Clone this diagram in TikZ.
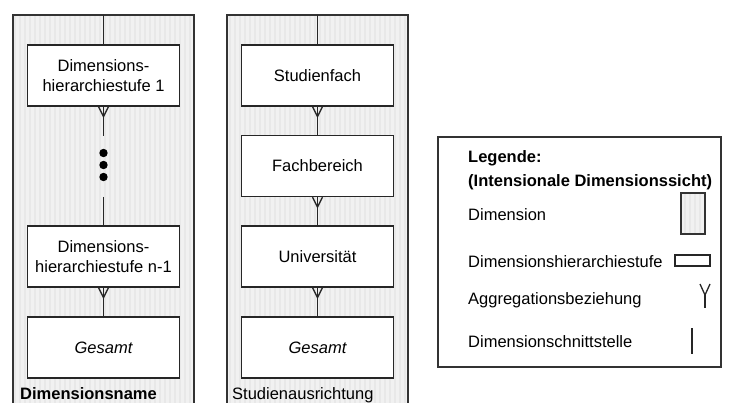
\documentclass[tikz,border=0pt]{standalone}
\usepackage{fontspec}
\setmainfont{Liberation Sans}
\definecolor{dimgray}{RGB}{241,241,241}
\definecolor{stripegray}{RGB}{232,232,232}
\begin{document}
\begin{tikzpicture}[x=1pt,y=-1pt,
  every node/.style={font=\fontsize{16.5}{20.5}\selectfont},
  level/.style={draw=black!85,line width=1.3pt,fill=white,minimum width=152pt,
    minimum height=61pt,inner sep=0pt,align=center},
  dimfill/.style={fill=dimgray},
  frameline/.style={draw=black!80,line width=1.3pt},
  link/.style={draw=black!85,line width=1.3pt},
  stripe/.style={draw=stripegray,line width=1.2pt},
  legtext/.style={anchor=base west,inner sep=0pt}]
\useasboundingbox (0,0) rectangle (730,403);
\fill[white] (0,0) rectangle (730,403);

% striped dimension shading
\newcommand\dimstripes[4]{%
  \begin{scope}
    \clip (#1,#2) rectangle (#3,#4);
    \fill[dimfill] (#1,#2) rectangle (#3,#4);
    \foreach \sx in {#1,...,#3} {\pgfmathparse{mod(\sx,5)==0}%
      \ifnum\pgfmathresult=1 \draw[stripe] (\sx,#2) -- (\sx,#4);\fi}
  \end{scope}}
\dimstripes{13}{15}{194}{404}
\dimstripes{227}{15}{408}{404}
\draw[frameline] (13,404) -- (13,15) -- (194,15) -- (194,404);
\draw[frameline] (227,404) -- (227,15) -- (408,15) -- (408,404);

% left dimension
\node[level] (a1) at (103.5,75.5) {Dimensions-\\hierarchiestufe 1};
\node[level] (a2) at (103.5,256.5) {Dimensions-\\hierarchiestufe n-1};
\node[level] (a3) at (103.5,347.5) {\itshape Gesamt};
\node[legtext,font=\fontsize{16.5}{20.5}\selectfont\bfseries] (dname) at (20,399) {Dimensionsname};

% middle dimension
\node[level] (b1) at (317.5,75.5) {Studienfach};
\node[level] (b2) at (317.5,166) {Fachbereich};
\node[level] (b3) at (317.5,256.5) {Universität};
\node[level] (b4) at (317.5,347.5) {\itshape Gesamt};
\node[legtext] (bname) at (232,399) {Studienausrichtung};

% dimension interfaces
\coordinate (at) at (103.5,15);
\coordinate (bt) at (317.5,15);
\draw[link] (at) -- (a1.north);
\draw[link] (bt) -- (b1.north);

% aggregation relationships with crow's feet
\newcommand\crowfoot[1]{\draw[link] (#1) ++(-5,0) -- ++(5,10) -- ++(5,-10);}
\coordinate (gapa) at (103.5,136);
\coordinate (gapb) at (103.5,197);
\draw[link] (a1.south) -- (gapa);
\draw[link] (gapb) -- (a2.north);
\foreach \dy in {153,165,177} \fill (103.5,\dy) circle (4.2);
\draw[link] (a2.south) -- (a3.north);
\draw[link] (b1.south) -- (b2.north);
\draw[link] (b2.south) -- (b3.north);
\draw[link] (b3.south) -- (b4.north);
\crowfoot{a1.south}
\crowfoot{a2.south}
\crowfoot{b1.south}
\crowfoot{b2.south}
\crowfoot{b3.south}

% legend
\draw[frameline] (438,137) rectangle (721,367);
\node[legtext,font=\fontsize{16.5}{20.5}\selectfont\bfseries] (lg1) at (468,163) {Legende:};
\node[legtext,font=\fontsize{16.5}{20.5}\selectfont\bfseries] (lg2) at (468,187) {(Intensionale Dimensionssicht)};
\node[legtext] (ld) at (468,221) {Dimension};
\node[legtext] (lh) at (468,267) {Dimensionshierarchiestufe};
\node[legtext] (la) at (468,304) {Aggregationsbeziehung};
\node[legtext] (ls) at (468,347) {Dimensionschnittstelle};
\dimstripes{681}{193}{705}{234}
\draw[draw=black!80,line width=1.1pt] (681,193) rectangle (705,234);
\draw[draw=black!85,line width=1.1pt] (675,255) rectangle (710,266);
\coordinate (ya) at (705,284);
\draw[link] (ya) ++(-5,0) -- ++(5,11) -- ++(5,-11);
\draw[link] (705,295) -- (705,308);
\coordinate (sa) at (692,328);
\draw[link] (sa) -- (692,354);
\end{tikzpicture}
\end{document}
